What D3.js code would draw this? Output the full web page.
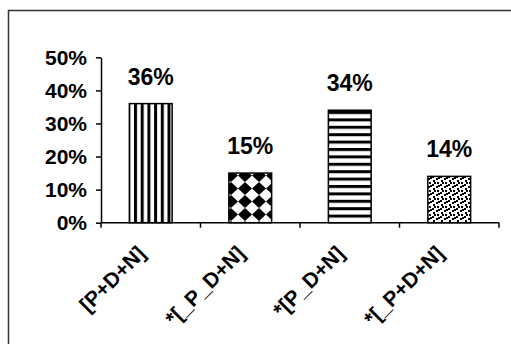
<!DOCTYPE html>
<html>
<head>
<meta charset="utf-8">
<script src="https://cdn.jsdelivr.net/npm/d3@7"></script>
<style>
  body { margin: 0; background: #fff; }
  text { font-family: Arial, "Liberation Sans", sans-serif; font-weight: bold; fill: #000; }
</style>
</head>
<body>
<div id="chart"></div>
<script>
const categories = ["[P+D+N]", "*[_P_D+N]", "*[P_D+N]", "*[_P+D+N]"];
const values = [0.36, 0.15, 0.34, 0.14];
const yTicks = [0, 0.1, 0.2, 0.3, 0.4, 0.5];
const patterns = ["vstripe", "diamond", "hstripe", "dots"];

const width = 511;
const height = 344;

const svg = d3.select("div#chart").append("svg")
    .attr("width", width)
    .attr("height", height);

// patterns
const defs = svg.append("defs");

const vs = defs.append("pattern").attr("id", "vstripe")
    .attr("patternUnits", "userSpaceOnUse").attr("width", 6.7).attr("height", 10);
vs.append("rect").attr("width", 6.7).attr("height", 10).attr("fill", "#fff");
vs.append("rect").attr("width", 3).attr("height", 10).attr("fill", "#000");

const hs = defs.append("pattern").attr("id", "hstripe")
    .attr("patternUnits", "userSpaceOnUse").attr("width", 10).attr("height", 7.4);
hs.append("rect").attr("width", 10).attr("height", 7.4).attr("fill", "#fff");
hs.append("rect").attr("width", 10).attr("height", 3).attr("fill", "#000");

const dm = defs.append("pattern").attr("id", "diamond")
    .attr("patternUnits", "userSpaceOnUse").attr("width", 14).attr("height", 13);
dm.append("rect").attr("width", 14).attr("height", 13).attr("fill", "#fff");
dm.append("path").attr("fill", "#000")
    .attr("d", "M7,0 L14,6.5 L7,13 L0,6.5 Z");

const dt = defs.append("pattern").attr("id", "dots")
    .attr("patternUnits", "userSpaceOnUse").attr("width", 8).attr("height", 8);
dt.append("rect").attr("width", 8).attr("height", 8).attr("fill", "#fff");
[[0, 0], [4, 2], [1, 4], [5, 6], [6, 1], [2, 6]].forEach(function (p) {
  dt.append("rect").attr("x", p[0]).attr("y", p[1])
    .attr("width", 2).attr("height", 2).attr("fill", "#000");
});

// frame
svg.append("path")
    .attr("d", "M8.5," + height + " L8.5,10.5 L" + width + ",10.5")
    .attr("fill", "none")
    .attr("stroke", "#333")
    .attr("stroke-width", 1.5);

// scales
const x = d3.scaleBand()
    .domain(categories)
    .range([101, 499])
    .paddingInner(0.57)
    .paddingOuter(0.285);

const y = d3.scaleLinear()
    .domain([0, 0.5])
    .range([222.7, 57.3]);

// bars
svg.selectAll("rect.bar")
  .data(categories)
  .join("rect")
    .attr("class", "bar")
    .attr("x", d => x(d))
    .attr("y", (d, i) => y(values[i]))
    .attr("width", x.bandwidth())
    .attr("height", (d, i) => y(0) - y(values[i]))
    .attr("fill", (d, i) => "url(#" + patterns[i] + ")")
    .attr("stroke", "#000")
    .attr("stroke-width", 1.5);

// value labels
svg.selectAll("text.val")
  .data(categories)
  .join("text")
    .attr("class", "val")
    .attr("x", d => x(d) + x.bandwidth() / 2)
    .attr("y", (d, i) => y(values[i]) - 19)
    .attr("text-anchor", "middle")
    .style("font-size", "23px")
    .text((d, i) => d3.format(".0%")(values[i]));

// y axis
const yaxis = d3.axisLeft(y)
    .tickValues(yTicks)
    .tickFormat(d3.format(".0%"))
    .tickSizeInner(5)
    .tickSizeOuter(0)
    .tickPadding(9);

const gy = svg.append("g")
    .attr("transform", "translate(101,0)")
    .call(yaxis);
gy.select(".domain").attr("stroke", "#000").attr("stroke-width", 1.5);
gy.selectAll(".tick line").attr("stroke", "#000").attr("stroke-width", 1.5);
gy.selectAll(".tick text")
    .style("font-size", "21px")
    .style("font-family", "Arial, 'Liberation Sans', sans-serif")
    .attr("font-weight", "bold");

// x axis
const gx = svg.append("g");
gx.append("line")
    .attr("x1", x.range()[0]).attr("x2", x.range()[1])
    .attr("y1", y(0)).attr("y2", y(0))
    .attr("stroke", "#000").attr("stroke-width", 1.5);
const bounds = d3.range(categories.length + 1).map(i => x.range()[0] + i * x.step());
gx.selectAll("line.tick")
  .data(bounds)
  .join("line")
    .attr("class", "tick")
    .attr("x1", d => d).attr("x2", d => d)
    .attr("y1", y(0)).attr("y2", y(0) + 5)
    .attr("stroke", "#000").attr("stroke-width", 1.5);

gx.selectAll("text.cat")
  .data(categories)
  .join("text")
    .attr("class", "cat")
    .attr("transform", d => "translate(" + (x(d) + x.bandwidth() / 2 - 4) + "," + (y(0) + 32) + ") rotate(-45)")
    .attr("text-anchor", "end")
    .style("font-size", "21px")
    .text(d => d);
</script>
</body>
</html>
